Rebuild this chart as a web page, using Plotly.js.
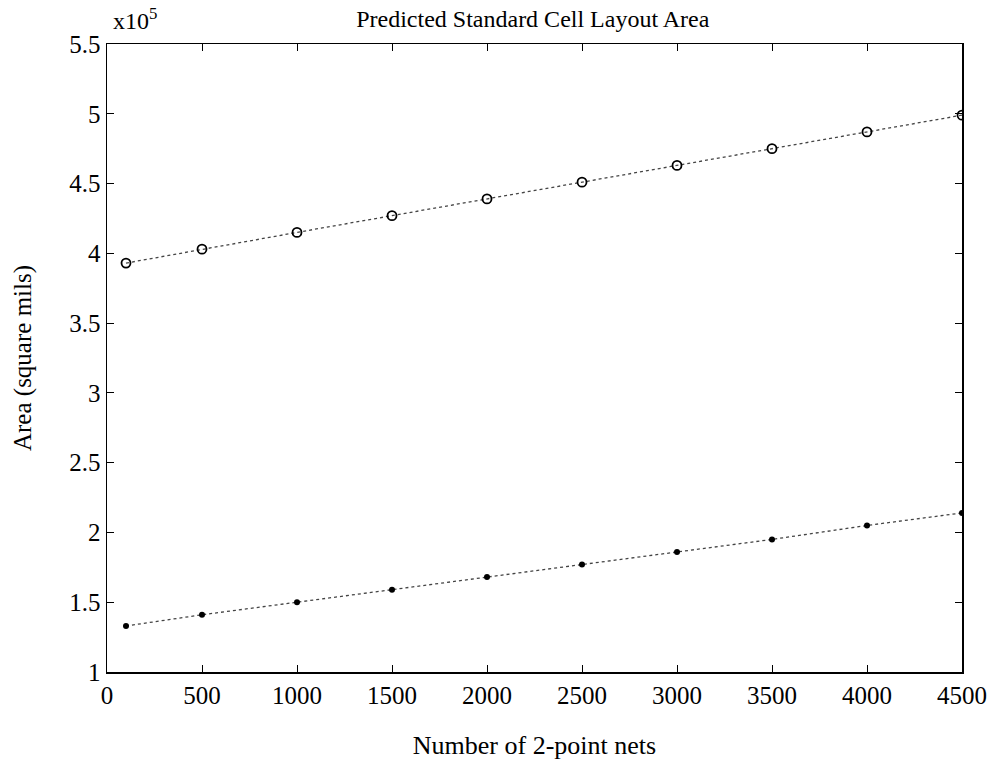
<!DOCTYPE html>
<html>
<head>
<meta charset="utf-8">
<script src="https://cdn.plot.ly/plotly-3.0.1.min.js"></script>
<style>html,body{margin:0;padding:0;background:#fff;}#chart{width:988px;height:761px;}</style>
</head>
<body>
<div id="chart"></div>
<script>
const nets = [100, 500, 1000, 1500, 2000, 2500, 3000, 3500, 4000, 4500];
const upperArea = [3.93, 4.03, 4.15, 4.27, 4.39, 4.51, 4.63, 4.75, 4.87, 4.99];
const lowerArea = [1.33, 1.41, 1.50, 1.59, 1.68, 1.77, 1.86, 1.95, 2.05, 2.14];
const xTicks = [0, 500, 1000, 1500, 2000, 2500, 3000, 3500, 4000, 4500];
const yTicks = [1, 1.5, 2, 2.5, 3, 3.5, 4, 4.5, 5, 5.5];

const font = 'Liberation Serif, Times New Roman, serif';
const traces = [
  {x: nets, y: upperArea, mode: 'lines+markers', type: 'scatter',
   line: {color: '#444', width: 1.3, dash: 'dot'},
   marker: {symbol: 'circle-open', size: 9, color: '#000', line: {width: 1.8, color: '#000'}}},
  {x: nets, y: lowerArea, mode: 'lines+markers', type: 'scatter',
   line: {color: '#444', width: 1.3, dash: 'dot'},
   marker: {symbol: 'circle', size: 6, color: '#000'}}
];
const axisCommon = {showgrid: false, zeroline: false, showline: true, linecolor: '#000', linewidth: 1.5,
  mirror: 'ticks', ticks: 'inside', ticklen: 7, tickwidth: 1, tickcolor: '#000',
  tickfont: {family: font, size: 25, color: '#000'}};
const layout = {
  width: 988, height: 761,
  margin: {l: 107, r: 26, t: 44, b: 89},
  paper_bgcolor: '#fff', plot_bgcolor: '#fff',
  showlegend: false,
  font: {family: font, color: '#000'},
  title: {text: 'Predicted Standard Cell Layout Area', font: {family: font, size: 24, color: '#000'},
          x: 0.498, xanchor: 'center', xref: 'paper', y: 0.976, yanchor: 'middle'},
  xaxis: Object.assign({}, axisCommon, {range: [0, 4500], tickvals: xTicks,
     title: {text: 'Number of 2-point nets', font: {family: font, size: 26, color: '#000'}, standoff: 28}}),
  yaxis: Object.assign({}, axisCommon, {range: [1, 5.5], tickvals: yTicks,
     title: {text: 'Area (square mils)', font: {family: font, size: 25, color: '#000'}, standoff: 30}}),
  annotations: [{text: 'x10<sup>5</sup>', xref: 'paper', yref: 'paper', x: 0.005, y: 1.0, xanchor: 'left', yanchor: 'bottom',
     yshift: 8, showarrow: false, font: {family: font, size: 24, color: '#000'}}]
};
Plotly.newPlot('chart', traces, layout, {displayModeBar: false, staticPlot: true});
</script>
</body>
</html>
